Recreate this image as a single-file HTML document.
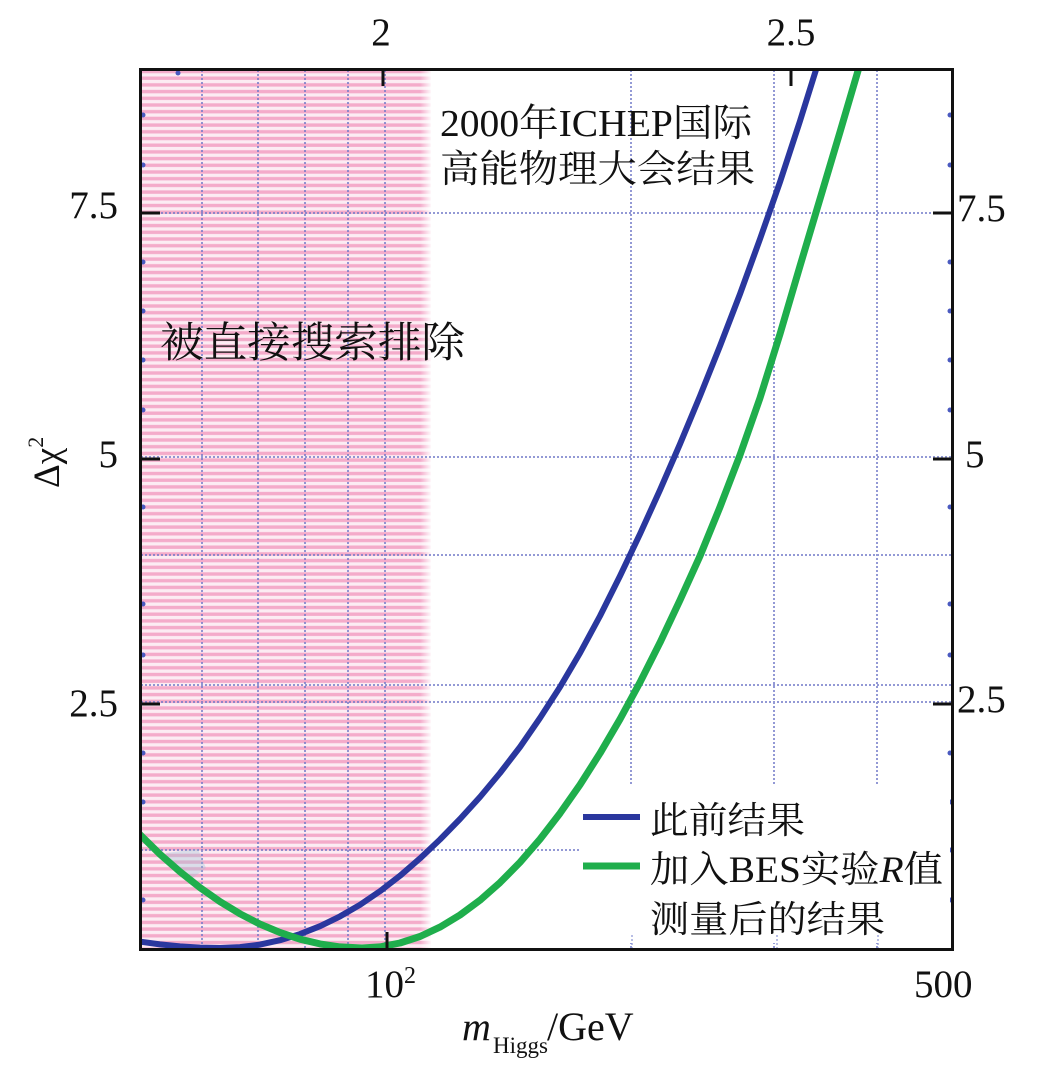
<!DOCTYPE html>
<html>
<head>
<meta charset="utf-8">
<style>
html,body{margin:0;padding:0;background:#fff;}
svg{display:block;}
.t{font-family:"Liberation Serif","Noto Serif CJK SC",serif;fill:#111;}
</style>
</head>
<body>
<svg width="1038" height="1077" viewBox="0 0 1038 1077" xmlns="http://www.w3.org/2000/svg">
<defs>
  <pattern id="pk" x="0" y="69" width="20" height="6.7" patternUnits="userSpaceOnUse">
    <rect x="0" y="0" width="20" height="6.7" fill="#fcecf3"/>
    <rect x="0" y="0.8" width="20" height="3.4" fill="#f4abca"/>
  </pattern>
  <linearGradient id="fade" x1="0" x2="1" y1="0" y2="0">
    <stop offset="0" stop-color="#fff" stop-opacity="0"/>
    <stop offset="1" stop-color="#fff" stop-opacity="1"/>
  </linearGradient>
  <clipPath id="plot"><rect x="141" y="70" width="811" height="879"/></clipPath>
</defs>

<!-- pink excluded region -->
<rect x="141" y="70" width="290" height="879" fill="url(#pk)"/>
<rect x="420" y="70" width="12" height="879" fill="url(#fade)"/>

<!-- grid lines -->
<g stroke="#6f78c8" stroke-width="2" stroke-dasharray="2 2" fill="none" opacity="0.75">
  <line x1="202" y1="70" x2="202" y2="949"/>
  <line x1="258" y1="70" x2="258" y2="949"/>
  <line x1="305" y1="70" x2="305" y2="949"/>
  <line x1="348" y1="70" x2="348" y2="949"/>
  <line x1="385" y1="70" x2="385" y2="949"/>
  <line x1="631" y1="70" x2="631" y2="949"/>
  <line x1="774" y1="70" x2="774" y2="949"/>
  <line x1="877" y1="70" x2="877" y2="949"/>
  <line x1="141" y1="213" x2="952" y2="213"/>
  <line x1="141" y1="457" x2="952" y2="457"/>
  <line x1="141" y1="555" x2="952" y2="555"/>
  <line x1="141" y1="685" x2="952" y2="685"/>
  <line x1="141" y1="702" x2="952" y2="702"/>
  <line x1="141" y1="850" x2="952" y2="850"/>
</g>

<!-- minor tick dots -->
<g fill="#4a5ac0">
  <circle cx="143" cy="115" r="2.5"/><circle cx="143" cy="165" r="2.5"/>
  <circle cx="143" cy="262" r="2.5"/><circle cx="143" cy="311" r="2.5"/><circle cx="143" cy="360" r="2.5"/>
  <circle cx="143" cy="410" r="2.5"/><circle cx="143" cy="507" r="2.5"/><circle cx="143" cy="604" r="2.5"/>
  <circle cx="143" cy="655" r="2.5"/><circle cx="143" cy="753" r="2.5"/><circle cx="143" cy="802" r="2.5"/><circle cx="143" cy="900" r="2.5"/>
  <circle cx="950" cy="115" r="2.5"/><circle cx="950" cy="165" r="2.5"/>
  <circle cx="950" cy="262" r="2.5"/><circle cx="950" cy="311" r="2.5"/><circle cx="950" cy="360" r="2.5"/>
  <circle cx="950" cy="410" r="2.5"/><circle cx="950" cy="507" r="2.5"/><circle cx="950" cy="604" r="2.5"/>
  <circle cx="950" cy="655" r="2.5"/><circle cx="950" cy="753" r="2.5"/><circle cx="950" cy="802" r="2.5"/><circle cx="950" cy="850" r="2.5"/><circle cx="950" cy="900" r="2.5"/>
  <circle cx="178" cy="73" r="2.5"/>
</g>

<!-- legend background -->
<rect x="579" y="786" width="371" height="157" fill="#fff"/>
<g stroke="#8a94d4" stroke-width="2" stroke-dasharray="2 2" opacity="0.6">
  <line x1="632" y1="935" x2="632" y2="949"/>
  <line x1="777" y1="935" x2="777" y2="949"/>
  <line x1="878" y1="935" x2="878" y2="949"/>
</g>

<!-- small artifact -->
<path d="M166,853 L198,849 L206,868 L190,880 L172,868 Z" fill="#9cc4d6" opacity="0.35"/>

<!-- curves -->
<g clip-path="url(#plot)" fill="none" stroke-linejoin="round" stroke-linecap="round">
  <polyline stroke="#2a379e" stroke-width="6"
    points="136,941 140,941.6 160,944.4 180,946.4 200,947.6 220,948 240,947.1 260,944.6 280,940.2 300,934.1 320,926.2 340,916.4 360,904.8 380,891.2 400,875.8 420,858.4 440,839.5 460,819 480,797 500,773 520,747 540,718 560,687 580,653 600,616 620,576 640,534 660,490 680,444 700,396 720,346 740,294 760,239 780,182 800,121 820,57 823,47"/>
  <polyline stroke="#1fae4c" stroke-width="7"
    points="136,831 140,834.6 160,854.2 180,871.8 200,887.6 220,901.6 240,913.8 260,924.1 280,932.5 300,939.2 320,943.9 340,946.9 362,948 380,946.9 400,943 420,936.5 440,927.1 460,915 480,900.2 500,882.6 520,862.3 540,839.2 560,813.3 580,784.7 600,753.3 620,719.2 640,682.3 660,642.6 680,600.1 700,556 720,507 740,455 760,398 780,334 800,266 820,199 840,132 860,64 864,50"/>
</g>

<!-- legend lines -->
<line x1="583" y1="817" x2="640" y2="817" stroke="#2a379e" stroke-width="6"/>
<line x1="583" y1="866" x2="640" y2="866" stroke="#1fae4c" stroke-width="7"/>

<!-- frame -->
<rect x="140.5" y="69.5" width="812" height="880" fill="none" stroke="#111" stroke-width="3"/>

<!-- major ticks -->
<g stroke="#111" stroke-width="3">
  <line x1="141" y1="213" x2="160" y2="213"/>
  <line x1="141" y1="459" x2="160" y2="459"/>
  <line x1="141" y1="704" x2="160" y2="704"/>
  <line x1="933" y1="213" x2="952" y2="213"/>
  <line x1="933" y1="459" x2="952" y2="459"/>
  <line x1="933" y1="704" x2="952" y2="704"/>
  <line x1="383" y1="70" x2="383" y2="86"/>
  <line x1="791" y1="70" x2="791" y2="86"/>
  <line x1="387" y1="932" x2="387" y2="949"/>
</g>

<!-- axis tick labels -->
<g class="t" font-size="39">
  <text x="118" y="218" text-anchor="end">7.5</text>
  <text x="118" y="467" text-anchor="end">5</text>
  <text x="118" y="716" text-anchor="end">2.5</text>
  <text x="957" y="221">7.5</text>
  <text x="965" y="467">5</text>
  <text x="957" y="712">2.5</text>
  <text x="381" y="45" text-anchor="middle">2</text>
  <text x="791" y="45" text-anchor="middle">2.5</text>
  <text x="365" y="997">10<tspan font-size="24" dy="-14">2</tspan></text>
  <text x="914" y="997">500</text>
</g>

<!-- axis titles -->
<text class="t" x="462" y="1040" font-size="40" font-style="italic">m</text>
<text class="t" x="493" y="1053" font-size="23">Higgs</text>
<text class="t" x="547" y="1040" font-size="40">/GeV</text>
<text class="t" transform="translate(59,488) rotate(-90)" font-size="37">Δχ<tspan font-size="22" dy="-16">2</tspan></text>

<!-- annotations -->
<text class="t" x="440" y="136" font-size="38" textLength="312" lengthAdjust="spacingAndGlyphs">2000年ICHEP国际</text>
<text class="t" x="440" y="182" font-size="38" textLength="315" lengthAdjust="spacingAndGlyphs">高能物理大会结果</text>
<text class="t" x="160" y="357" font-size="42" textLength="305" lengthAdjust="spacingAndGlyphs">被直接搜索排除</text>

<!-- legend text -->
<text class="t" x="650" y="833" font-size="37" textLength="155" lengthAdjust="spacingAndGlyphs">此前结果</text>
<text class="t" x="650" y="882" font-size="37" textLength="293" lengthAdjust="spacingAndGlyphs">加入BES实验<tspan font-style="italic">R</tspan>值</text>
<text class="t" x="650" y="932" font-size="37" textLength="235" lengthAdjust="spacingAndGlyphs">测量后的结果</text>
</svg>
</body>
</html>
